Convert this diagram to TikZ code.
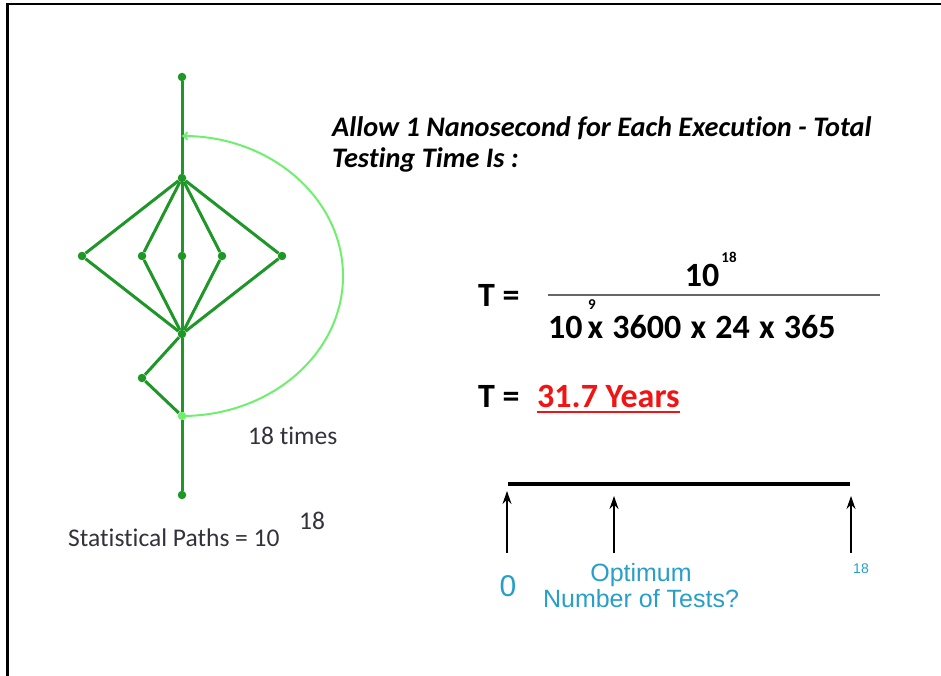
\documentclass[tikz,border=0pt]{standalone}
\usepackage{fontspec}
\setmainfont{Carlito}[Ligatures=NoCommon]
\newfontfamily\arialf{Liberation Sans}
\usetikzlibrary{arrows.meta}
\definecolor{dgreen}{RGB}{30,150,40}
\definecolor{lgreen}{RGB}{110,240,110}
\definecolor{txtgray}{RGB}{50,50,60}
\definecolor{tblue}{RGB}{40,158,200}
\definecolor{tred}{RGB}{240,20,20}
\tikzset{
  dot/.style={circle,fill=dgreen,inner sep=0pt,minimum size=8.5pt},
  edge/.style={draw=dgreen,line width=3pt},
  plain/.style={inner sep=0pt,text=txtgray,font=\fontsize{25.5}{30}\selectfont},
  eq/.style={inner sep=0pt,font=\bfseries\fontsize{34}{40}\selectfont},
  sup/.style={inner sep=0pt,font=\bfseries\fontsize{15}{17}\selectfont},
  blu/.style={inner sep=0pt,text=tblue},
  upar/.style={draw=black,line width=1.1pt,-{Stealth[length=13pt,width=9pt]}},
}
\begin{document}
\begin{tikzpicture}[x=1pt,y=-1pt]
\useasboundingbox (0,0) rectangle (941,676);
\draw[line width=2.5pt] (7.5,676) -- (7.5,4) -- (941,4);
% graph nodes
\node[dot] (top) at (182,77) {};
\node[dot] (A) at (182,178) {};
\node[dot] (L2) at (82,256) {};
\node[dot] (L1) at (142,256) {};
\node[dot] (M) at (182,256) {};
\node[dot] (R1) at (222,256) {};
\node[dot] (R2) at (282,256) {};
\node[dot] (B) at (182,334) {};
\node[dot] (K) at (142,378) {};
\node[circle,fill=lgreen,inner sep=0pt,minimum size=8.5pt] (C) at (182,416) {};
\node[dot] (bot) at (182,495) {};
\draw[edge] (top) -- (A) -- (M) -- (B) -- (C) -- (bot);
\draw[edge] (A) -- (L2) -- (B);
\draw[edge] (A) -- (L1) -- (B);
\draw[edge] (A) -- (R1) -- (B);
\draw[edge] (A) -- (R2) -- (B);
\draw[edge] (B) -- (K) -- (C);
\draw[draw=lgreen,line width=2pt,-{To[length=6pt,width=9pt]}] (C.center) arc[start angle=90,end angle=-90,x radius=161,y radius=140];
\node[plain,anchor=west] (times) at (248,436) {18 times};
\node[plain,anchor=west] (stat) at (68,538) {Statistical Paths = 10};
\node[plain,anchor=west] (stat18) at (299,521) {18};
% heading
\node[inner sep=0pt,anchor=west,font=\bfseries\itshape\fontsize{28.3}{34}\selectfont] (h1) at (332,128) {Allow 1 Nanosecond for Each Execution - Total};
\node[inner sep=0pt,anchor=west,font=\bfseries\itshape\fontsize{28.3}{34}\selectfont] (h2) at (332,160) {Testing Time Is :};
% equation
\node[eq,anchor=west] (T1) at (478,295) {T =};
\node[eq] (num) at (702,275) {10};
\node[sup] (num18) at (729,257) {18};
\draw[draw=gray!80!black,line width=1.6pt] (548,295) -- (880,295);
\node[eq,anchor=west] (den) at (548,327) {10\hspace{5pt}x\hspace{1.5pt} 3600\hspace{1.5pt} x\hspace{1.5pt} 24\hspace{1.5pt} x\hspace{1.5pt} 365};
\node[sup] (den9) at (592,305) {9};
\node[eq,anchor=west] (T2) at (478,396) {T =};
\node[eq,anchor=west,text=tred] (res) at (537,396) {31.7 Years};
\draw[draw=tred,line width=2pt] ([yshift=-5pt]res.south west) -- ([yshift=-5pt]res.south east);
% number line
\draw[line width=4pt] (508,484) -- (850,484);
\coordinate (a0) at (507,553);
\coordinate (a0t) at (507,491);
\coordinate (a1) at (614,553);
\coordinate (a1t) at (614,496);
\coordinate (a2) at (851,553);
\coordinate (a2t) at (851,496);
\draw[upar] (a0) -- (a0t);
\draw[upar] (a1) -- (a1t);
\draw[upar] (a2) -- (a2t);
\node[blu,font=\arialf\fontsize{30}{34}\selectfont] (zero) at (508,586) {0};
\node[blu,font=\arialf\fontsize{25}{26}\selectfont,align=center] (opt) at (641,586) {Optimum\\Number of Tests?};
\node[blu,font=\arialf\fontsize{14}{16}\selectfont] (e18) at (861,569) {18};
\end{tikzpicture}
\end{document}
